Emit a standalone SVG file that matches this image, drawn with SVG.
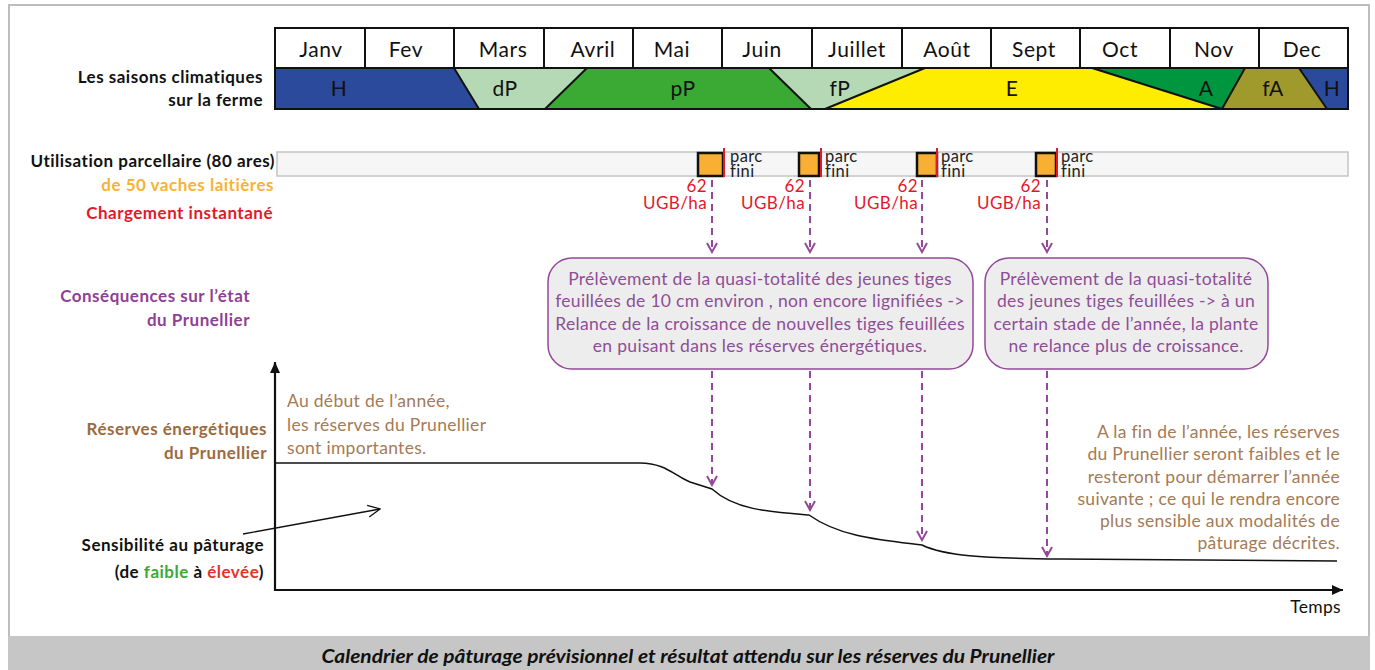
<svg xmlns="http://www.w3.org/2000/svg" width="1375" height="670" viewBox="0 0 1375 670">
<style>
text{font-family:Lato,"Open Sans","Liberation Sans",sans-serif}
.m{font-size:21px;letter-spacing:0.6px;fill:#111;text-anchor:middle}
.s{font-size:21px;letter-spacing:0.5px;fill:#111;text-anchor:middle}
.lb{font-size:17px;letter-spacing:0.5px;font-weight:bold;text-anchor:end}
.dash{stroke:#93499a;stroke-width:2;stroke-dasharray:7 5;fill:none}
.box{fill:#ededed;stroke:#93499a;stroke-width:1.5}
.bt{font-size:17.5px;letter-spacing:0.3px;fill:#8f4d98;text-anchor:middle}
.red{font-size:17px;letter-spacing:0.4px;fill:#e3192b;text-anchor:end}
.pf{font-size:16.5px;letter-spacing:0.4px;fill:#222}
.sq{fill:#f7b033;stroke:#111;stroke-width:2.5}
.br{font-size:17.5px;letter-spacing:0.3px;fill:#a57a55}
.diag{stroke:#111;stroke-width:2}
</style>
<defs>
<marker id="va" viewBox="0 0 12 12" refX="10" refY="6" markerWidth="12" markerHeight="12" markerUnits="userSpaceOnUse" orient="auto">
<path d="M1,1 L10,6 L1,11" fill="none" stroke="#93499a" stroke-width="2"/>
</marker>
<marker id="ka" viewBox="0 0 12 12" refX="11" refY="6" markerWidth="12" markerHeight="12" markerUnits="userSpaceOnUse" orient="auto">
<path d="M0,1 L11,6 L0,11 Z" fill="#111"/>
</marker>
<marker id="oa" viewBox="0 0 14 14" refX="13" refY="7" markerWidth="14" markerHeight="14" markerUnits="userSpaceOnUse" orient="auto">
<path d="M1,1 L13,7 L1,13" fill="none" stroke="#111" stroke-width="1.3"/>
</marker>
</defs>
<rect x="0" y="0" width="1375" height="670" fill="#fff"/>
<rect x="9" y="5" width="1360" height="680" fill="none" stroke="#bdbdbd" stroke-width="2"/>
<rect x="8" y="636" width="1362" height="34" fill="#c6c6c6"/>
<text x="688" y="663" font-size="18" font-weight="bold" font-style="italic" fill="#111" text-anchor="middle" textLength="733" lengthAdjust="spacingAndGlyphs">Calendrier de pâturage prévisionnel et résultat attendu sur les réserves du Prunellier</text>

<g id="calendar">
<rect x="275" y="28" width="1073" height="40" fill="#fff"/>
<polygon points="275,68 454,68 479,109 275,109" fill="#2b4a9b"/>
<polygon points="454,68 587,68 545,109 479,109" fill="#b5d9b4"/>
<polygon points="587,68 769,68 811,109 545,109" fill="#3aaa35"/>
<polygon points="769,68 925,68 825,109 811,109" fill="#b5d9b4"/>
<polygon points="925,68 1092,68 1222,109 825,109" fill="#ffed00"/>
<polygon points="1092,68 1245,68 1222,109" fill="#009640"/>
<polygon points="1245,68 1299,68 1327,109 1222,109" fill="#a09a2c"/>
<polygon points="1299,68 1348,68 1348,109 1327,109" fill="#2b4a9b"/>
<g class="diag">
<line x1="454" y1="68" x2="479" y2="109"/>
<line x1="587" y1="68" x2="545" y2="109"/>
<line x1="769" y1="68" x2="811" y2="109"/>
<line x1="925" y1="68" x2="825" y2="109"/>
<line x1="1092" y1="68" x2="1222" y2="109"/>
<line x1="1245" y1="68" x2="1222" y2="109"/>
<line x1="1299" y1="68" x2="1327" y2="109"/>
<line x1="275" y1="68" x2="1348" y2="68"/>
<line x1="365" y1="28" x2="365" y2="68"/>
<line x1="454" y1="28" x2="454" y2="68"/>
<line x1="544" y1="28" x2="544" y2="68"/>
<line x1="633" y1="28" x2="633" y2="68"/>
<line x1="722" y1="28" x2="722" y2="68"/>
<line x1="812" y1="28" x2="812" y2="68"/>
<line x1="902" y1="28" x2="902" y2="68"/>
<line x1="991" y1="28" x2="991" y2="68"/>
<line x1="1080" y1="28" x2="1080" y2="68"/>
<line x1="1170" y1="28" x2="1170" y2="68"/>
<line x1="1259" y1="28" x2="1259" y2="68"/>
</g>
<rect x="275" y="28" width="1073" height="81" fill="none" stroke="#111" stroke-width="2"/>
<text class="m" x="321" y="57">Janv</text>
<text class="m" x="406" y="57">Fev</text>
<text class="m" x="503" y="57">Mars</text>
<text class="m" x="593" y="57">Avril</text>
<text class="m" x="672" y="57">Mai</text>
<text class="m" x="762" y="57">Juin</text>
<text class="m" x="857" y="57">Juillet</text>
<text class="m" x="947" y="57">Août</text>
<text class="m" x="1034" y="57">Sept</text>
<text class="m" x="1120" y="57">Oct</text>
<text class="m" x="1214" y="57">Nov</text>
<text class="m" x="1302" y="57">Dec</text>
<text class="s" x="339" y="96">H</text>
<text class="s" x="505" y="96">dP</text>
<text class="s" x="683" y="96">pP</text>
<text class="s" x="840" y="96">fP</text>
<text class="s" x="1012" y="96">E</text>
<text class="s" x="1206" y="96">A</text>
<text class="s" x="1273" y="96">fA</text>
<text class="s" x="1332" y="96">H</text>
</g>

<g id="labels">
<text class="lb" x="263" y="83" fill="#111">Les saisons climatiques</text>
<text class="lb" x="263" y="106" fill="#111">sur la ferme</text>
<text class="lb" x="275" y="167" fill="#111">Utilisation parcellaire (80 ares)</text>
<text class="lb" x="274" y="191" fill="#f9b233">de 50 vaches laitières</text>
<text class="lb" x="273" y="219" fill="#e3192b">Chargement instantané</text>
<text class="lb" x="250" y="302" fill="#8f3f95">Conséquences sur l’état</text>
<text class="lb" x="250" y="326" fill="#8f3f95">du Prunellier</text>
<text class="lb" x="267" y="435" fill="#9c6a40">Réserves énergétiques</text>
<text class="lb" x="267" y="459" fill="#9c6a40">du Prunellier</text>
<text class="lb" x="264" y="551" fill="#111">Sensibilité au pâturage</text>
<text class="lb" x="264" y="578" fill="#111">(de <tspan fill="#3aaa35">faible</tspan> à <tspan fill="#e5332a">élevée</tspan>)</text>
</g>

<g id="parcel">
<rect x="277" y="152" width="1071" height="24" fill="#f6f6f6" stroke="#c4c4c4" stroke-width="1.5"/>
<rect class="sq" x="698" y="153" width="25" height="23"/>
<line x1="724" y1="148" x2="724" y2="177" stroke="#e3192b" stroke-width="2"/>
<text class="pf" x="730" y="162">parc</text><text class="pf" x="730" y="177">fini</text>
<rect class="sq" x="799" y="153" width="20" height="23"/>
<line x1="821" y1="148" x2="821" y2="177" stroke="#e3192b" stroke-width="2"/>
<text class="pf" x="825" y="162">parc</text><text class="pf" x="825" y="177">fini</text>
<rect class="sq" x="917" y="153" width="20" height="23"/>
<line x1="937" y1="148" x2="937" y2="177" stroke="#e3192b" stroke-width="2"/>
<text class="pf" x="941" y="162">parc</text><text class="pf" x="941" y="177">fini</text>
<rect class="sq" x="1036" y="153" width="20" height="23"/>
<line x1="1057" y1="148" x2="1057" y2="177" stroke="#e3192b" stroke-width="2"/>
<text class="pf" x="1061" y="162">parc</text><text class="pf" x="1061" y="177">fini</text>
<text class="red" x="707" y="192">62</text><text class="red" x="707" y="209">UGB/ha</text>
<text class="red" x="805" y="192">62</text><text class="red" x="805" y="209">UGB/ha</text>
<text class="red" x="918" y="192">62</text><text class="red" x="918" y="209">UGB/ha</text>
<text class="red" x="1041" y="192">62</text><text class="red" x="1041" y="209">UGB/ha</text>
</g>

<g id="box1">
<rect class="box" x="548" y="258" width="425" height="111" rx="24"/>
<text class="bt" x="760" y="285">Prélèvement de la quasi-totalité des jeunes tiges</text>
<text class="bt" x="760" y="307">feuillées de 10 cm environ , non encore lignifiées -&gt;</text>
<text class="bt" x="760" y="330">Relance de la croissance de nouvelles tiges feuillées</text>
<text class="bt" x="760" y="352">en puisant dans les réserves énergétiques.</text>
</g>
<g id="box2">
<rect class="box" x="985" y="258" width="283" height="111" rx="24"/>
<text class="bt" x="1126" y="285">Prélèvement de la quasi-totalité</text>
<text class="bt" x="1126" y="307">des jeunes tiges feuillées -&gt; à un</text>
<text class="bt" x="1126" y="330">certain stade de l’année, la plante</text>
<text class="bt" x="1126" y="352">ne relance plus de croissance.</text>
</g>

<g id="connectors">
<line class="dash" x1="712" y1="180" x2="712" y2="252" marker-end="url(#va)"/>
<line class="dash" x1="810" y1="180" x2="810" y2="252" marker-end="url(#va)"/>
<line class="dash" x1="922" y1="180" x2="922" y2="252" marker-end="url(#va)"/>
<line class="dash" x1="1047" y1="180" x2="1047" y2="252" marker-end="url(#va)"/>
<line class="dash" x1="712" y1="371" x2="712" y2="485" marker-end="url(#va)"/>
<line class="dash" x1="810" y1="371" x2="810" y2="510" marker-end="url(#va)"/>
<line class="dash" x1="922" y1="371" x2="922" y2="540" marker-end="url(#va)"/>
<line class="dash" x1="1047" y1="371" x2="1047" y2="556" marker-end="url(#va)"/>
<line x1="243" y1="534" x2="380" y2="509" stroke="#111" stroke-width="1.3" marker-end="url(#oa)"/>
</g>

<g id="chart">
<line x1="275" y1="591" x2="275" y2="362" stroke="#111" stroke-width="2.2" marker-end="url(#ka)"/>
<line x1="274" y1="590" x2="1343" y2="590" stroke="#111" stroke-width="2.2" marker-end="url(#ka)"/>
<path d="M276,463 L640,463 C665,463 675,476 690,482 L712,489 C735,510 770,512 809,515 C840,537 880,540 922,545 C945,556 980,558 1060,559 L1337,561" fill="none" stroke="#111" stroke-width="1.5"/>
<text x="1341" y="613" font-size="17.5" letter-spacing="0.3" fill="#111" text-anchor="end">Temps</text>
<text class="br" x="287" y="407">Au début de l’année,</text>
<text class="br" x="287" y="431">les réserves du Prunellier</text>
<text class="br" x="287" y="454">sont importantes.</text>
<text class="br" x="1340" y="438" text-anchor="end">A la fin de l’année, les réserves</text>
<text class="br" x="1340" y="460" text-anchor="end">du Prunellier seront faibles et le</text>
<text class="br" x="1340" y="483" text-anchor="end">resteront pour démarrer l’année</text>
<text class="br" x="1340" y="505" text-anchor="end">suivante ; ce qui le rendra encore</text>
<text class="br" x="1340" y="527" text-anchor="end">plus sensible aux modalités de</text>
<text class="br" x="1340" y="549" text-anchor="end">pâturage décrites.</text>
</g>
</svg>
